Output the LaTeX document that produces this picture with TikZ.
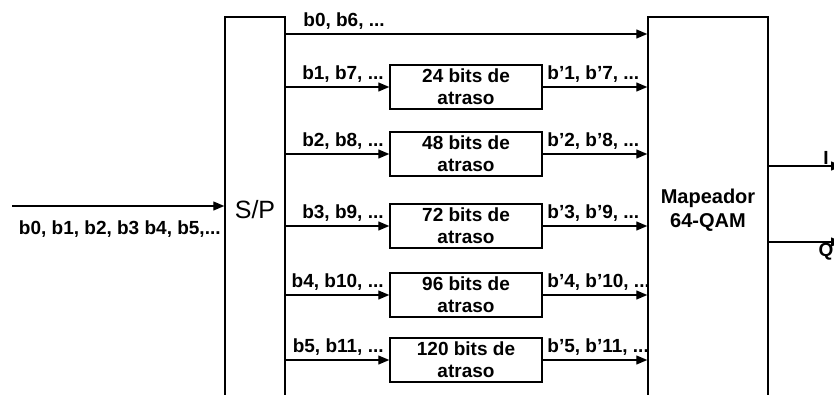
\documentclass[tikz,border=0pt]{standalone}
\usepackage{fontspec}
\setmainfont{Liberation Sans}
\usetikzlibrary{arrows.meta,positioning}
\tikzset{
  bloco/.style={draw, line width=1.5pt, inner sep=0pt},
  atraso/.style={bloco, minimum width=152pt, minimum height=44pt, align=center,
    font=\bfseries\fontsize{19}{22}\selectfont},
  rotulo/.style={font=\bfseries\fontsize{19}{22}\selectfont, inner sep=1pt},
  seta/.style={-{Triangle[length=11pt,width=9pt]}, line width=1.3pt},
}

\begin{document}
\begin{tikzpicture}[x=1pt,y=-1pt]
\useasboundingbox (0,0) rectangle (834,394);
\clip (0,0) rectangle (834,394);

% blocos principais
\node[bloco, minimum width=60pt, minimum height=386pt,
  font=\fontsize{25}{30}\selectfont] (sp) at (255,210) {S/P};
\node[bloco, minimum width=120pt, minimum height=386pt, align=center,
  font=\bfseries\fontsize{20}{24}\selectfont] (map) at (708,210) {Mapeador\\64-QAM};

% entrada
\coordinate (ent) at (12,206);
\draw[seta] (ent) -- (ent -| sp.west)
  node[rotulo, pos=1, anchor=north east, xshift=-2pt, yshift=-13pt] {b0, b1, b2, b3 b4, b5,...};

% ramo sem atraso
\coordinate (r0) at (0,34);
\draw[seta] (sp.east |- r0) -- (map.west |- r0)
  node[rotulo, pos=0, anchor=south west, xshift=16pt, yshift=3pt] {b0, b6, ...};

% ramos com atraso
\foreach \n/\m/\y/\t in {1/7/87/24, 2/8/154/48, 3/9/226/72, 4/10/295/96, 5/11/360/120}{
  \node[atraso] (d\n) at (466,\y) {\t{} bits de\\atraso};
  \draw[seta] (sp.east |- d\n.west) -- (d\n.west)
    node[rotulo, pos=1, anchor=south east, xshift=-4pt, yshift=3pt] {b\n, b\m, ...};
  \draw[seta] (d\n.east) -- (map.west |- d\n.east)
    node[rotulo, pos=0, anchor=south west, xshift=3pt, yshift=3pt] {b’\n, b’\m, ...};
}

% saidas
\coordinate (saiI) at (842,166);
\coordinate (saiQ) at (842,242);
\draw[seta] (map.east |- saiI) -- (saiI) node[rotulo, pos=0.78, above] {I};
\draw[seta] (map.east |- saiQ) -- (saiQ) node[rotulo, pos=0.78, below] {Q};
\end{tikzpicture}
\end{document}
